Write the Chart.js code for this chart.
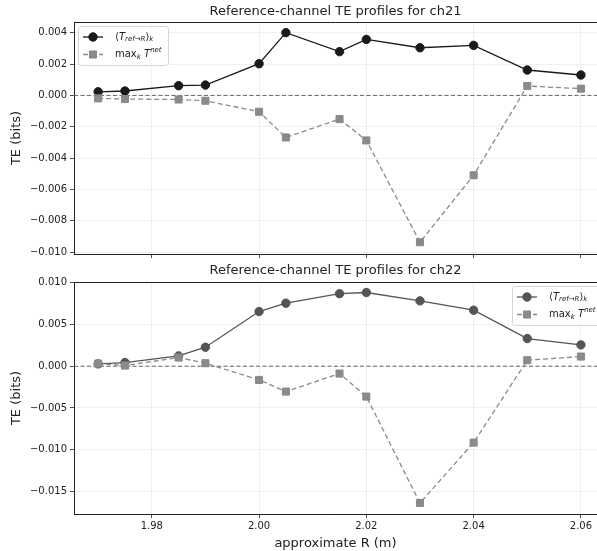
<!DOCTYPE html>
<html lang="en">
<head>
    <meta charset="UTF-8">
    <title>Reference-channel TE profiles</title>
    <style>
        body {
            margin: 0;
            background-color: #ffffff;
            overflow: hidden;
        }
        canvas {
            position: absolute;
            left: 0;
        }
        #topChart { top: 0; }
        #bottomChart { top: 262px; }
    </style>
    <script src="https://cdn.jsdelivr.net/npm/chart.js"></script>
</head>
<body>
    <canvas id="topChart" width="597" height="262"></canvas>
    <canvas id="bottomChart" width="597" height="289"></canvas>

    <script>
        // approximate R (m) for each sample
        const radius = [1.970, 1.975, 1.985, 1.990, 2.000, 2.005, 2.015, 2.020, 2.030, 2.040, 2.050, 2.060];

        // ch21
        const ch21Mean = [0.00023, 0.00028, 0.00062, 0.00066, 0.00202, 0.00400, 0.00279, 0.00357, 0.00304, 0.00319, 0.00162, 0.00130];
        const ch21Max = [-0.00019, -0.00023, -0.00026, -0.00034, -0.00104, -0.00268, -0.00151, -0.00287, -0.00936, -0.00509, 0.00060, 0.00043];

        // ch22
        const ch22Mean = [0.00028, 0.00044, 0.00124, 0.00228, 0.00656, 0.00756, 0.00870, 0.00884, 0.00784, 0.00672, 0.00332, 0.00256];
        const ch22Max = [0.00032, 0.00008, 0.00104, 0.00036, -0.00164, -0.00304, -0.00088, -0.00364, -0.01640, -0.00916, 0.00072, 0.00116];

        const xTicks = [1.98, 2.00, 2.02, 2.04, 2.06];
        const ch21Ticks = [0.004, 0.002, 0, -0.002, -0.004, -0.006, -0.008, -0.010];
        const ch22Ticks = [0.010, 0.005, 0, -0.005, -0.010, -0.015];

        Chart.defaults.font.family = '"DejaVu Sans", sans-serif';
        Chart.defaults.color = '#222222';

        const gridColor = 'rgba(0, 0, 0, 0.08)';
        const textFont = '"DejaVu Sans", sans-serif';

        function fmtY(v) {
            return (v < 0 ? '\u2212' : '') + Math.abs(v).toFixed(3);
        }

        // mathtext-like labels: [text, size, italic, baseline shift]
        const meanLabel = [['\u27E8', 10, false, 0], ['T', 10, true, 0], ['ref\u2192R', 7, true, 2.5], ['\u27E9', 10, false, 0], ['k', 7, true, 2.5]];
        const maxLabel = [['max', 10, false, 0], ['k', 7, true, 2.5], [' ', 10, false, 0], ['T', 10, true, 0], ['net', 7, true, -4]];

        function drawRich(ctx, x, y, parts) {
            for (const [t, size, italic, shift] of parts) {
                ctx.font = (italic ? 'italic ' : '') + size + 'px ' + textFont;
                ctx.fillText(t, x, y + shift);
                x += ctx.measureText(t).width;
            }
        }

        // axes title, frame top line and dashed zero line
        const framePlugin = {
            id: 'frame',
            beforeDatasetsDraw(chart) {
                const {ctx, chartArea: a, scales: {y}} = chart;
                const y0 = y.getPixelForValue(0);
                ctx.save();
                ctx.strokeStyle = '#666666';
                ctx.lineWidth = 1;
                ctx.setLineDash([4, 2.5]);
                ctx.beginPath();
                ctx.moveTo(a.left, y0);
                ctx.lineTo(a.right, y0);
                ctx.stroke();
                ctx.restore();
            },
            afterDraw(chart, args, opts) {
                const {ctx, chartArea: a} = chart;
                ctx.save();
                ctx.strokeStyle = '#222222';
                ctx.lineWidth = 1;
                ctx.beginPath();
                ctx.moveTo(a.left, a.top + 0.5);
                ctx.lineTo(a.right, a.top + 0.5);
                ctx.stroke();

                ctx.fillStyle = '#222222';
                ctx.font = '13px ' + textFont;
                ctx.textAlign = 'center';
                ctx.textBaseline = 'middle';
                ctx.fillText(opts.title, (a.left + opts.fullRight) / 2, opts.titleY);
                ctx.restore();
            }
        };

        const legendPlugin = {
            id: 'texLegend',
            afterDraw(chart, args, opts) {
                const {ctx, chartArea: a} = chart;
                const w = 90, h = 39;
                const bx = opts.corner === 'right' ? a.right + 5 - w : a.left + 4;
                const by = a.top + 4;
                ctx.save();
                ctx.fillStyle = 'rgba(255, 255, 255, 0.85)';
                ctx.strokeStyle = '#d4d4d4';
                ctx.lineWidth = 1;
                ctx.beginPath();
                ctx.roundRect(bx + 0.5, by + 0.5, w, h, 3);
                ctx.fill();
                ctx.stroke();

                chart.data.datasets.forEach((ds, i) => {
                    const ry = by + 11 + i * 17.5;
                    ctx.strokeStyle = ds.borderColor;
                    ctx.lineWidth = ds.borderWidth;
                    ctx.setLineDash(ds.borderDash || []);
                    ctx.beginPath();
                    ctx.moveTo(bx + 5, ry);
                    ctx.lineTo(bx + 25, ry);
                    ctx.stroke();
                    ctx.setLineDash([]);
                    ctx.fillStyle = ds.pointBackgroundColor;
                    ctx.strokeStyle = ds.pointBorderColor;
                    ctx.lineWidth = 1;
                    ctx.beginPath();
                    if (ds.pointStyle === 'rect') {
                        const s = ds.pointRadius * Math.SQRT1_2;
                        ctx.rect(bx + 15 - s, ry - s, 2 * s, 2 * s);
                    } else {
                        ctx.arc(bx + 15, ry, ds.pointRadius, 0, Math.PI * 2);
                    }
                    ctx.fill();
                    ctx.stroke();
                    ctx.fillStyle = '#222222';
                    ctx.textBaseline = 'middle';
                    drawRich(ctx, bx + 37, ry, ds.legendParts);
                });
                ctx.restore();
            }
        };

        function makeChart(id, title, meanVals, maxVals, meanColor, yMin, yMax, yTicks, showX, corner, topPad, titleY, xHeight) {
            const ctx = document.getElementById(id).getContext('2d');
            return new Chart(ctx, {
                type: 'line',
                data: {
                    datasets: [{
                        label: 'mean',
                        legendParts: meanLabel,
                        data: radius.map((r, i) => ({x: r, y: meanVals[i]})),
                        borderColor: meanColor,
                        borderWidth: 1.3,
                        pointStyle: 'circle',
                        pointRadius: 4.2,
                        pointBackgroundColor: meanColor,
                        pointBorderColor: meanColor,
                        pointBorderWidth: 1,
                        order: 2
                    }, {
                        label: 'max',
                        legendParts: maxLabel,
                        data: radius.map((r, i) => ({x: r, y: maxVals[i]})),
                        borderColor: '#8a8a8a',
                        borderWidth: 1.3,
                        borderDash: [5, 3],
                        pointStyle: 'rect',
                        pointRadius: 5,
                        pointBackgroundColor: '#8a8a8a',
                        pointBorderColor: '#8a8a8a',
                        pointBorderWidth: 1,
                        order: 1
                    }]
                },
                options: {
                    responsive: false,
                    animation: false,
                    layout: { padding: { top: topPad, left: 0, right: 0, bottom: 0 }, autoPadding: false },
                    plugins: {
                        legend: { display: false },
                        tooltip: { enabled: false },
                        title: { display: false },
                        frame: { title: title, titleY: titleY, fullRight: 597 },
                        texLegend: { corner: corner }
                    },
                    scales: {
                        x: {
                            type: 'linear',
                            min: 1.9655,
                            max: 2.063,
                            afterBuildTicks: s => { s.ticks = xTicks.map(v => ({value: v})); },
                            afterFit: s => {
                                s.height = xHeight;
                                s.paddingLeft = 0;
                                s.paddingRight = 0;
                            },
                            grid: { color: gridColor, tickColor: '#222222', tickLength: 4, lineWidth: 0.8 },
                            border: { color: '#222222', width: 1 },
                            ticks: {
                                display: showX,
                                font: { size: 10 },
                                padding: 2,
                                maxRotation: 0,
                                autoSkip: false,
                                callback: v => v.toFixed(2)
                            },
                            title: {
                                display: showX,
                                text: 'approximate R (m)',
                                font: { size: 13 },
                                padding: { top: 0, bottom: 0 }
                            }
                        },
                        y: {
                            min: yMin,
                            max: yMax,
                            afterBuildTicks: s => { s.ticks = yTicks.map(v => ({value: v})); },
                            afterFit: s => {
                                s.width = 74;
                                s.paddingTop = 0;
                                s.paddingBottom = 0;
                            },
                            grid: { color: gridColor, tickColor: '#222222', tickLength: 4, lineWidth: 0.8 },
                            border: { color: '#222222', width: 1 },
                            ticks: {
                                font: { size: 10 },
                                padding: 3,
                                autoSkip: false,
                                callback: fmtY
                            },
                            title: {
                                display: true,
                                text: 'TE (bits)',
                                font: { size: 13 },
                                padding: { top: 9, bottom: 0 }
                            }
                        }
                    }
                },
                plugins: [framePlugin, legendPlugin]
            });
        }

        makeChart('topChart', 'Reference-channel TE profiles for ch21', ch21Mean, ch21Max, '#1a1a1a',
            -0.01011, 0.00468, ch21Ticks, false, 'left', 22, 12, 8);
        makeChart('bottomChart', 'Reference-channel TE profiles for ch22', ch22Mean, ch22Max, '#555555',
            -0.01772, 0.0101, ch22Ticks, true, 'right', 20, 9, 37);
    </script>
</body>
</html>
